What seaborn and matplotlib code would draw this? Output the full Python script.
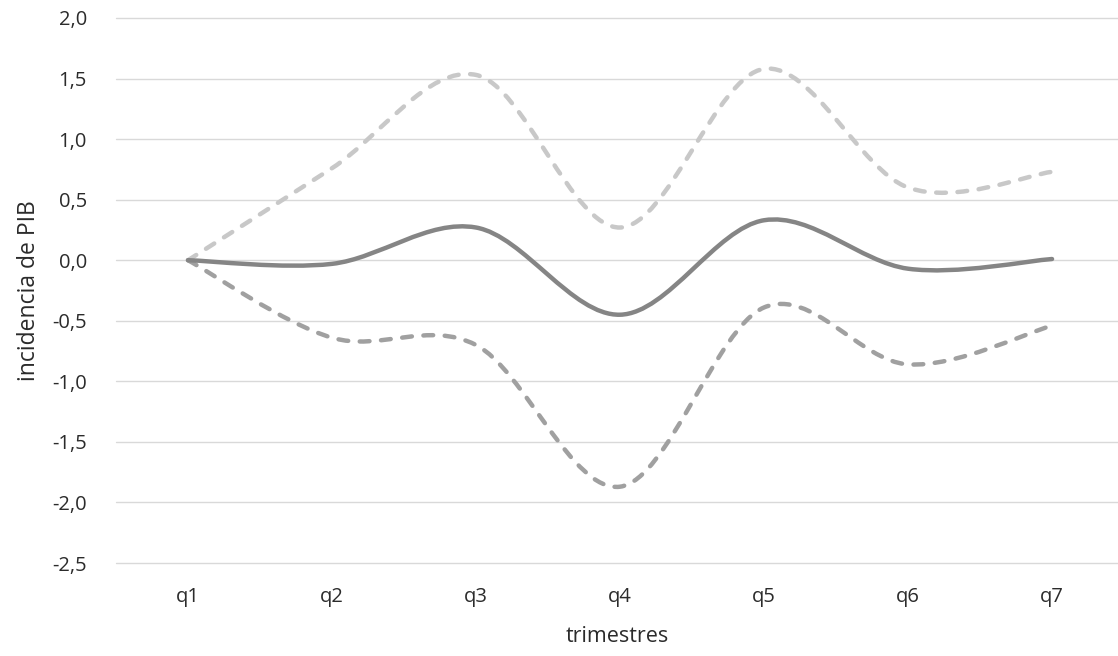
import numpy as np
import matplotlib
matplotlib.use("Agg")
import matplotlib.pyplot as plt
from matplotlib.path import Path
from matplotlib.patches import PathPatch
from matplotlib.ticker import FuncFormatter
import seaborn as sns

# datos
trimestres = ["q1", "q2", "q3", "q4", "q5", "q6", "q7"]
central = [0.0, -0.03, 0.27, -0.45, 0.33, -0.07, 0.01]
banda_sup = [0.0, 0.76, 1.53, 0.27, 1.58, 0.60, 0.73]
banda_inf = [0.0, -0.64, -0.70, -1.87, -0.39, -0.86, -0.54]
y_ticks = [-2.5, -2.0, -1.5, -1.0, -0.5, 0.0, 0.5, 1.0, 1.5, 2.0]


def smooth_path(values):
    # curva suavizada tipo Excel (bezier Catmull-Rom)
    pts = np.column_stack([np.arange(len(values)), values]).astype(float)
    n = len(pts)
    verts = [pts[0]]
    codes = [Path.MOVETO]
    for i in range(n - 1):
        p0 = pts[max(i - 1, 0)]
        p1 = pts[i]
        p2 = pts[i + 1]
        p3 = pts[min(i + 2, n - 1)]
        verts += [p1 + (p2 - p0) / 6, p2 - (p3 - p1) / 6, p2]
        codes += [Path.CURVE4] * 3
    return Path(verts, codes)


sns.set_theme(style="whitegrid")
plt.rcParams["font.family"] = ["Open Sans", "DejaVu Sans"]
txt_color = "#2b2b2b"

fig = plt.figure(figsize=(11.18, 6.56), dpi=100)
ax = fig.add_axes([116 / 1118, 93 / 656, 1 - 116 / 1118, 545 / 656])

series = [
    (banda_sup, "#c8c8c8", (0, (2.2, 2.6))),
    (banda_inf, "#a0a0a0", (0, (2.2, 2.6))),
    (central, "#858585", "solid"),
]
for vals, col, ls in series:
    patch = PathPatch(smooth_path(vals), fill=False, edgecolor=col,
                      linewidth=3.2, linestyle=ls, capstyle="round",
                      joinstyle="round", zorder=3)
    ax.add_patch(patch)

ax.set_xlim(-0.5, 6.458)
ax.set_ylim(-2.5, 2.0)
ax.set_xticks(range(len(trimestres)))
ax.set_xticklabels(trimestres)
ax.set_yticks(y_ticks)
ax.yaxis.set_major_formatter(FuncFormatter(lambda v, p: f"{v:.1f}".replace(".", ",")))

ax.grid(axis="x", visible=False)
ax.grid(axis="y", color="#d9d9d9", linewidth=1.0)
for gl in ax.get_ygridlines():
    gl.set_clip_on(False)
for s in ax.spines.values():
    s.set_visible(False)
ax.set_facecolor("white")
ax.tick_params(axis="both", length=0, labelsize=14.5, labelcolor=txt_color)
ax.tick_params(axis="y", pad=21)
ax.tick_params(axis="x", pad=17)

ax.set_xlabel("trimestres", fontsize=15.5, color=txt_color, labelpad=14)
ax.set_ylabel("incidencia de PIB", fontsize=16.5, color=txt_color, labelpad=8)

fig.savefig("out.png", dpi=100, facecolor="white")
